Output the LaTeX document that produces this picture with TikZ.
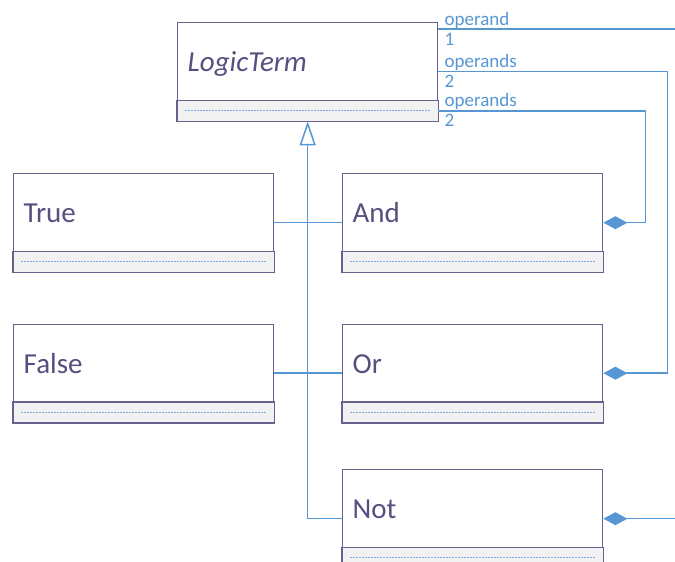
\documentclass[tikz,border=0pt]{standalone}
\usepackage{fontspec}
\setmainfont{Carlito}
\usepackage{xcolor}
\usetikzlibrary{calc,arrows.meta}

\definecolor{umlframe}{RGB}{106,96,142}
\definecolor{umltext}{RGB}{88,78,128}
\definecolor{linkblue}{RGB}{86,150,210}
\definecolor{dotblue}{RGB}{120,172,225}
\definecolor{opsgray}{RGB}{242,242,242}

\tikzset{
  umlclass/.style={draw=umlframe, line width=1.4pt, fill=white, anchor=north west,
    minimum width=260pt, minimum height=98pt, text width=240pt, inner xsep=10pt,
    text height=0pt, text depth=0pt, align=left, text=umltext,
    font=\fontsize{29}{30}\selectfont},
  opsdots/.style={dotblue, line width=1pt, dash pattern=on 2pt off 1pt},
  gen/.style={linkblue, line width=1.5pt},
  comp/.style={linkblue, line width=1.5pt, -{Diamond[length=24pt,width=13pt]}},
  rolename/.style={text=linkblue, inner sep=0pt, anchor=base west,
    font=\fontsize{19}{20}\selectfont},
}

\begin{document}
\begin{tikzpicture}[x=1pt,y=-1pt]
\useasboundingbox (0,0) rectangle (675,562);
\clip (0,0) rectangle (675,562);
% class boxes
\node[umlclass] (lt) at (177,22) {\itshape LogicTerm};
\foreach \n/\x/\y/\t in {true/13/173/True, false/13/323.5/False, and/342/173/And, or/342/323.5/Or, not/342/469/Not}
  \node[umlclass] (\n) at (\x,\y) {\t};
% empty operations compartment
\foreach \n in {lt,true,false,and,or,not} {
  \draw[draw=umlframe, line width=1.4pt, fill=opsgray] ([yshift=21pt]\n.south west) rectangle (\n.south east);
  \draw[opsdots] ([shift={(8pt,10.5pt)}]\n.south west) -- ([shift={(-8pt,10.5pt)}]\n.south east);
}
% generalizations
\draw[gen] (true.east) -- (and.west);
\draw[gen] (false.east) -- (or.west);
\draw[gen, -{Triangle[open,length=24pt,width=16pt]}] (not.west) -| (lt.south);
% compositions
\coordinate (lt-not) at ([yshift=-7pt]lt.north east);
\coordinate (lt-or) at (lt.east);
\coordinate (lt-and) at ([yshift=10.5pt]lt.south east);
\draw[comp] (lt-not) -| ([xshift=90pt]not.east) -- (not.east);
\draw[comp] (lt-or) -| ([xshift=64pt]or.east) -- (or.east);
\draw[comp] (lt-and) -| ([xshift=42pt]and.east) -- (and.east);
\foreach \c/\r/\m in {lt-not/operand/1, lt-or/operands/2, lt-and/operands/2} {
  \node[rolename] at ([shift={(6pt,4pt)}]\c) {\r};
  \node[rolename] at ([shift={(6pt,-16pt)}]\c) {\m};
}
\end{tikzpicture}
\end{document}
